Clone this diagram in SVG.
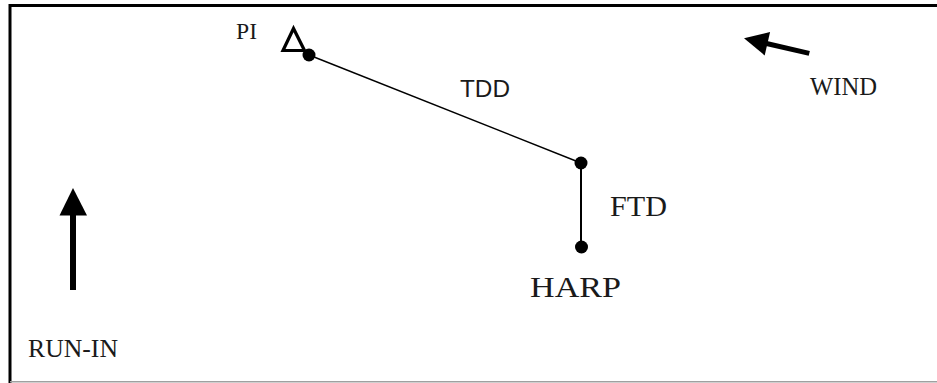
<svg xmlns="http://www.w3.org/2000/svg" width="937" height="383" viewBox="0 0 937 383">
<style>
.serif{font-family:"Liberation Serif","Times New Roman",serif;fill:#1a1a1a}
.sans{font-family:"Liberation Sans",Arial,sans-serif;fill:#1a1a1a}
.dot{fill:#000}
.arrow{fill:#000}
</style>
<rect width="937" height="383" fill="#fff"/>
<g id="frame">
<path d="M10,383 V5.5 H937" fill="none" stroke="#000" stroke-width="3"/>
<line x1="10" y1="381.7" x2="937" y2="381.7" stroke="#a0a0a0" stroke-width="1.5"/>
</g>
<g id="connectors">
<line x1="309" y1="55" x2="581" y2="163" stroke="#000" stroke-width="1.5"/>
<line x1="581" y1="163" x2="581" y2="247" stroke="#000" stroke-width="2"/>
</g>
<g id="pi">
<polygon points="293.5,28.5 283,50.5 304.5,50.5" fill="none" stroke="#000" stroke-width="3.2" stroke-linejoin="miter"/>
<circle class="dot" cx="309" cy="55" r="6.5"/>
<text class="serif" x="236" y="38.5" font-size="23.5" textLength="21" lengthAdjust="spacingAndGlyphs">PI</text>
</g>
<g id="tdd-label">
<text class="sans" x="460" y="97" font-size="23" textLength="50" lengthAdjust="spacingAndGlyphs">TDD</text>
</g>
<g id="ftd-point">
<circle class="dot" cx="581" cy="163" r="6.5"/>
<text class="serif" x="610" y="216" font-size="29" textLength="57" lengthAdjust="spacingAndGlyphs">FTD</text>
</g>
<g id="harp">
<circle class="dot" cx="581.5" cy="247" r="6.5"/>
<text class="serif" x="530" y="297" font-size="30" textLength="91" lengthAdjust="spacingAndGlyphs">HARP</text>
</g>
<g id="wind">
<g transform="translate(744,38.3) rotate(-77)">
<polygon class="arrow" points="0,0 -12,24 12,24"/>
<rect class="arrow" x="-2.5" y="22" width="5" height="45"/>
</g>
<text class="serif" x="810" y="95" font-size="25.5" textLength="67" lengthAdjust="spacingAndGlyphs">WIND</text>
</g>
<g id="run-in">
<polygon class="arrow" points="73,188 59.5,215.5 87,215.5"/>
<rect class="arrow" x="70" y="214" width="6" height="76"/>
<text class="serif" x="28" y="357" font-size="25.5" textLength="90" lengthAdjust="spacingAndGlyphs">RUN-IN</text>
</g>
</svg>
